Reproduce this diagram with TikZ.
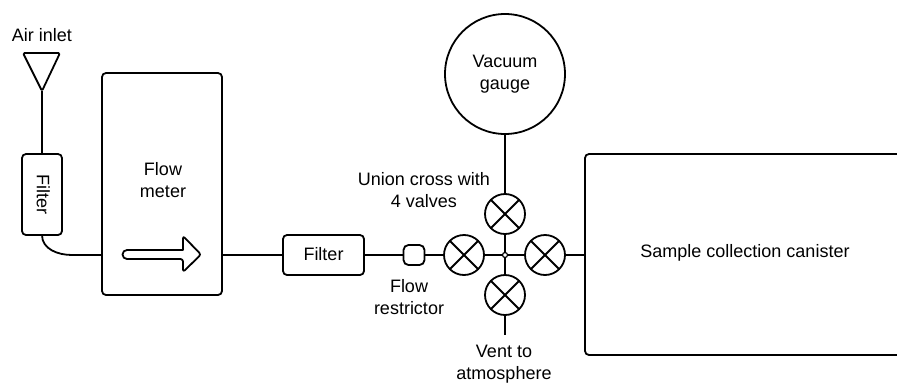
\documentclass[tikz,border=0pt]{standalone}
\usepackage{fontspec}
\setmainfont{Liberation Sans}
\tikzset{
  pipe/.style={line width=1.8pt},
  box/.style={draw,line width=1.8pt,rounded corners=4pt,inner sep=0pt,outer sep=0pt,align=center},
  valve/.style={draw,circle,line width=1.8pt,minimum size=40pt,inner sep=0pt,outer sep=0pt,
    path picture={\draw[line width=1.8pt] (path picture bounding box.north west)--(path picture bounding box.south east)
      (path picture bounding box.north east)--(path picture bounding box.south west);}},
  label/.style={align=center,inner sep=0pt}
}
\begin{document}
\begin{tikzpicture}[x=1pt,y=-1pt,font=\fontsize{18}{22}\selectfont]
\useasboundingbox (0,0) rectangle (897,383);
% air inlet and first filter
\node[label] (inlet) at (42,35) {Air inlet};
\draw[pipe,line join=round,rounded corners=1.5pt] (23,53)--(60,53)--(42,91)--cycle;
\coordinate (funnel) at (42,91);
\node[box,rotate=-90,minimum width=81pt,minimum height=40pt] (filterA) at (42,194.5) {\raisebox{3pt}{Filter}};
\draw[pipe] (funnel)--(filterA.west);
% flow meter
\node[box,minimum width=120pt,minimum height=222pt] (meter) at (162,184) {};
\node[label] (metertext) at (163,180) {Flow\\meter};
\coordinate (meterin) at (102,255); \coordinate (meterout) at (222,255);
\coordinate (bend) at (72,255);
\draw[pipe] (filterA.east) to[out=-90,in=180] (bend)--(meterin);
\draw[pipe,line join=round] (127,250)--(183,250)[rounded corners=2.5pt]--(183,236)--(201,254.5)--(183,272)--(183,259)[sharp corners]--(127,259) arc[start angle=-90,end angle=-270,radius=4.5pt]--cycle;
% filter and restrictor
\node[box,minimum width=81pt,minimum height=40pt] (filterB) at (323.5,255) {\raisebox{2pt}{Filter}};
\node[box,rounded corners=5pt,minimum width=21pt,minimum height=20pt] (restrictor) at (414,255) {};
\node[label] (restrictortext) at (409,297) {Flow\\restrictor};
% union cross
\node[valve] (valveL) at (464,255) {};
\node[valve] (valveT) at (505,214) {};
\node[valve] (valveR) at (545,255) {};
\node[valve] (valveB) at (505,295) {};
\node[draw,circle,line width=1.2pt,minimum size=5pt,inner sep=0pt,outer sep=0pt] (cross) at (505,255) {};
\node[label] (crosstext) at (424,190) {Union cross with\\4 valves};
% gauge and vent
\node[draw,circle,line width=1.8pt,minimum size=120pt,inner sep=0pt,outer sep=0pt,align=center] (gauge) at (505,74) {Vacuum\\gauge};
\coordinate (vent) at (505,335);
\node[label] (venttext) at (504,364) {Vent to\\atmosphere};
% canister, runs off the right edge
\draw[pipe,rounded corners=4pt] (897,154)--(585,154)--(585,355)--(897,355);
\coordinate (canister) at (585,255);
\node[label] (canistertext) at (745,253) {Sample collection canister};
% pipes
\draw[pipe] (meterout)--(filterB.west);
\draw[pipe] (filterB.east)--(restrictor.west);
\draw[pipe] (restrictor.east)--(valveL.west);
\draw[pipe] (valveL.east)--(cross.west);
\draw[pipe] (cross.east)--(valveR.west);
\draw[pipe] (valveR.east)--(canister);
\draw[pipe] (cross.north)--(valveT.south);
\draw[pipe] (cross.south)--(valveB.north);
\draw[pipe] (valveT.north)--(gauge.south);
\draw[pipe] (valveB.south)--(vent);
\end{tikzpicture}
\end{document}
